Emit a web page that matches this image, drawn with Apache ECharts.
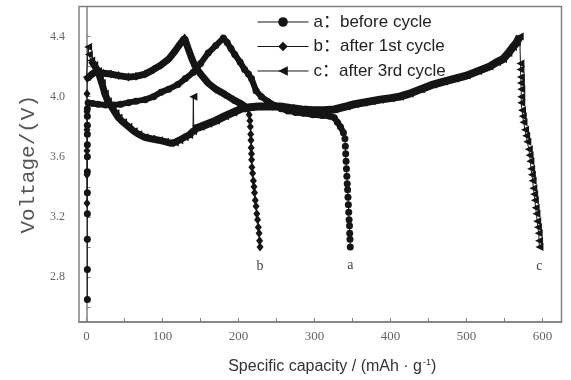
<!DOCTYPE html>
<html><head><meta charset="utf-8">
<script src="https://cdn.jsdelivr.net/npm/echarts@6/dist/echarts.min.js"></script>
<style>html,body{margin:0;padding:0;background:#fff}#c{width:571px;height:380px}</style>
</head><body><div id="c"></div>
<script>
// ---- data (specific capacity mAh/g, voltage V) ----
// a: before cycle
const capA1  = [1,1,1,1,1,1,1,1,1,1,1,1];
const voltA1 = [2.65,2.85,3.05,3.22,3.36,3.50,3.60,3.68,3.75,3.81,3.87,3.92];
const capA2  = [2,8,15,25,35,45,55,65,77,88,98,108,120,130,140,150,160,170,180,185,190,195,202,208,213,217,223,230,238,248,256,265,275,285,298,310,320,326,330,334,338];
const voltA2 = [3.96,3.955,3.95,3.945,3.945,3.95,3.96,3.97,3.98,4.0,4.03,4.05,4.08,4.12,4.16,4.22,4.29,4.34,4.39,4.36,4.32,4.28,4.23,4.18,4.15,4.12,4.04,4.0,3.97,3.94,3.92,3.905,3.895,3.89,3.88,3.875,3.87,3.86,3.83,3.80,3.76];
const capA3  = [340,340.5,341,341.5,342,342.5,343,343.5,344,344.5,345,345.5,346,346.3,346.6,347];
const voltA3 = [3.72,3.67,3.62,3.57,3.52,3.47,3.42,3.38,3.33,3.28,3.23,3.18,3.14,3.09,3.05,3.0];
// b: after 1st cycle
const capB1  = [0.5,0.5,0.5,0.5,0.5,0.5];
const voltB1 = [3.29,3.48,3.64,3.78,3.90,4.02];
const capB2  = [1,5,10,15,22,32,42,55,65,77,88,98,108,116,123,129,133,138,143,150,160,170,182,193,204,212];
const voltB2 = [4.12,4.14,4.16,4.16,4.155,4.15,4.14,4.13,4.135,4.15,4.18,4.21,4.25,4.30,4.35,4.39,4.33,4.26,4.20,4.15,4.09,4.05,4.015,3.98,3.95,3.92];
const capB3  = [214,215,215.5,216,216.3,216.6,217,217.2,217.5,218.5,219.5,220.3,221,222,223,224,225,226,227,227.7,228.3];
const voltB3 = [3.88,3.84,3.80,3.75,3.71,3.66,3.62,3.58,3.53,3.49,3.44,3.40,3.36,3.31,3.27,3.22,3.18,3.13,3.09,3.04,3.0];
// c: after 3rd cycle
const capC1  = [0,2,3];
const voltC1 = [4.13,4.33,4.28];
const capC2  = [6,10,15,20,24,28,33,38,42,48,55,62,68,76,85,95,103,110,116,122,129,135,140];
const voltC2 = [4.24,4.21,4.17,4.09,4.02,3.97,3.93,3.89,3.86,3.83,3.80,3.77,3.75,3.73,3.72,3.71,3.70,3.69,3.695,3.71,3.73,3.745,3.77];
const capC3  = [140.5];
const voltC3 = [4.0];
const capC4  = [141,150,160,170,182,193,204,215,226,240,254,268,283,298,312,326,342,353,364,375,386,400,412,425,440,456,470,485,500,515,530,540,548,555,561,566,570];
const voltC4 = [3.785,3.80,3.82,3.84,3.87,3.895,3.92,3.93,3.935,3.935,3.935,3.925,3.915,3.91,3.91,3.915,3.935,3.95,3.96,3.97,3.98,3.99,4.0,4.02,4.05,4.08,4.10,4.12,4.14,4.17,4.20,4.23,4.25,4.29,4.33,4.36,4.40];
const capC5  = [571,571,571.5,571.5,572,572,572,573,574,575,577,578.5,580,582,583,584,585,586,587,588,589,590,591,592,593,594,595,595.5,596];
const voltC5 = [4.22,4.18,4.13,4.09,4.05,4.00,3.96,3.91,3.87,3.83,3.78,3.74,3.70,3.65,3.61,3.57,3.52,3.48,3.44,3.39,3.35,3.31,3.26,3.22,3.17,3.13,3.09,3.04,3.0];

const seriesNames = ['a：before cycle','b：after 1st cycle','c：after 3rd cycle'];
const endLabels = ['a','b','c'];
const xTickValues = [0,50,100,150,200,250,300,350,400,450,500,550,600];
const xLabelValues = [0,100,200,300,400,500,600];
const yTickValues = [2.6,2.8,3.0,3.2,3.4,3.6,3.8,4.0,4.2,4.4];
const yLabelValues = [2.8,3.2,3.6,4.0,4.4];

// ---- build ----
const pts = (xs, ys) => xs.map((x, i) => [x, ys[i]]);
function withEndLabel(arr, txt) {
  return arr.map((p, i) => i === arr.length - 1 ? {
    value: p,
    label: {show: true, formatter: txt, position: 'bottom', distance: 8,
            fontFamily: 'Liberation Serif', fontSize: 14, color: '#444'}
  } : p);
}
const allA = [].concat(pts(capA1, voltA1), pts(capA2, voltA2), pts(capA3, voltA3));
const allB = [].concat(pts(capB1, voltB1), pts(capB2, voltB2), pts(capB3, voltB3));
const allC = [].concat(pts(capC1, voltC1), pts(capC2, voltC2), pts(capC3, voltC3), pts(capC4, voltC4), pts(capC5, voltC5));
const ink = '#151515';
const triLeft = 'path://M0,5L9,0L9,10Z';

function mainSeries(name, data, symbol, size, lbl) {
  return {name, type: 'line', data: withEndLabel(data, lbl), symbol, symbolSize: size,
    showAllSymbol: true, z: 3, lineStyle: {color: ink, width: 1}, itemStyle: {color: ink},
    emphasis: {disabled: true}};
}
function bandSeries(data, w) {
  return {name: 'band', type: 'line', data, symbol: 'none', z: 2,
    lineStyle: {color: ink, width: w}, emphasis: {disabled: true}, silent: true};
}

const chart = echarts.init(document.getElementById('c'), null, {renderer: 'canvas'});
chart.setOption({
  animation: false,
  backgroundColor: '#fff',
  grid: {left: 79, right: 9.5, top: 6.5, bottom: 54.5, show: true,
         borderColor: '#808080', borderWidth: 1.5, backgroundColor: 'transparent'},
  legend: {
    data: seriesNames, orient: 'vertical', left: 257, top: 13.5, padding: 0,
    itemWidth: 51, itemHeight: 12, itemGap: 7.5,
    lineStyle: {width: 1},
    textStyle: {fontFamily: 'Liberation Sans, "Noto Sans CJK SC", Arial, sans-serif', fontSize: 17, color: '#222'}
  },
  xAxis: {
    type: 'value', min: -10, max: 625,
    name: 'Specific capacity / (mAh · g{sup|-1})', nameLocation: 'middle', nameGap: 36,
    nameTextStyle: {fontFamily: 'Liberation Sans, Arial, sans-serif', fontSize: 16, color: '#333',
      padding: [0, 0, 0, 24],
      rich: {sup: {fontSize: 9, color: '#333', fontFamily: 'Liberation Sans', padding: [0, 0, 9, 1]}}},
    axisLine: {show: true, lineStyle: {color: '#808080', width: 1.5}},
    axisTick: {show: true, inside: true, length: 4, customValues: xTickValues, lineStyle: {color: '#808080'}},
    axisLabel: {customValues: xLabelValues, margin: 8, fontFamily: 'Liberation Serif', fontSize: 13, color: '#666'},
    splitLine: {show: false}
  },
  yAxis: {
    type: 'value', min: 2.5, max: 4.6,
    name: 'Voltage/(V)', nameLocation: 'middle', nameRotate: 90, nameGap: 36,
    nameTextStyle: {fontFamily: 'Liberation Mono, monospace', fontSize: 21, color: '#555'},
    axisLine: {show: true, lineStyle: {color: '#808080', width: 1.5}},
    axisTick: {show: true, inside: true, length: 4, customValues: yTickValues, lineStyle: {color: '#808080'}},
    axisLabel: {customValues: yLabelValues, margin: 14, fontFamily: 'Liberation Serif', fontSize: 12, color: '#666',
      formatter: v => v.toFixed(1)},
    splitLine: {show: false}
  },
  series: [
    bandSeries(pts(capA2, voltA2), 6),
    bandSeries(pts(capB2, voltB2), 7),
    bandSeries(pts(capC2, voltC2), 7),
    bandSeries(pts(capC4, voltC4), 8),
    mainSeries(seriesNames[0], allA, 'circle', 7, endLabels[0]),
    mainSeries(seriesNames[1], allB, 'diamond', [7, 9], endLabels[1]),
    mainSeries(seriesNames[2], allC, triLeft, [8, 8], endLabels[2])
  ]
});
</script></body></html>
